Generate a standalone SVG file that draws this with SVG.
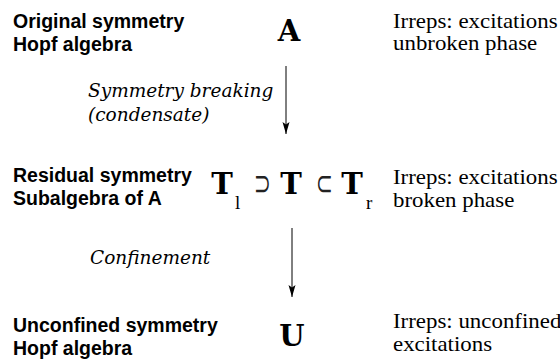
<svg xmlns="http://www.w3.org/2000/svg" width="560" height="360" viewBox="0 0 560 360">
<defs>
<style>
.lbl{font-family:"Liberation Sans",Arial,sans-serif;font-weight:bold;font-size:19.5px;fill:#000}
.sym{font-family:"DejaVu Serif","Liberation Serif",serif;font-weight:bold;font-size:29px;fill:#000}
.sub{font-family:"Liberation Serif",serif;font-size:19px;fill:#000}
.rel{font-family:"DejaVu Sans",sans-serif;font-weight:200;font-size:25px;fill:#222}
.irr{font-family:"Liberation Serif",serif;font-size:21px;fill:#000}
.it{font-family:"DejaVu Serif","Liberation Serif",serif;font-style:italic;font-size:18.5px;fill:#000}
.edge{stroke:#000;stroke-width:1;fill:none}
</style>
<marker id="ah" viewBox="0 0 12 8" refX="12" refY="4" markerWidth="12" markerHeight="8" markerUnits="userSpaceOnUse" orient="auto">
<path d="M0,0.5 L12,4 L0,7.5 L2.5,4 Z" fill="#000"/>
</marker>
</defs>
<g id="node-A">
<text class="lbl" x="13" y="28">Original symmetry</text>
<text class="lbl" x="13" y="51">Hopf algebra</text>
<text class="sym" x="289" y="41" text-anchor="middle">A</text>
<g transform="translate(393,0) scale(1.09,1)">
<text class="irr" x="0" y="28">Irreps: excitations</text>
<text class="irr" x="0" y="50">unbroken phase</text>
</g>
</g>
<g id="node-T">
<text class="lbl" x="13" y="182">Residual symmetry</text>
<text class="lbl" x="13" y="205">Subalgebra of A</text>
<text class="sym" x="222" y="194" text-anchor="middle">T</text>
<text class="sub" x="235" y="209">l</text>
<text class="rel" transform="translate(262,195) scale(0.8,1.4)" text-anchor="middle">⊃</text>
<text class="sym" x="291" y="194" text-anchor="middle">T</text>
<text class="rel" transform="translate(324,195) scale(0.8,1.4)" text-anchor="middle">⊂</text>
<text class="sym" x="352" y="194" text-anchor="middle">T</text>
<text class="sub" x="366" y="209">r</text>
<g transform="translate(393,0) scale(1.09,1)">
<text class="irr" x="0" y="184">Irreps: excitations</text>
<text class="irr" x="0" y="207">broken phase</text>
</g>
</g>
<g id="node-U">
<text class="lbl" x="13" y="332">Unconfined symmetry</text>
<text class="lbl" x="13" y="355">Hopf algebra</text>
<text class="sym" x="292" y="346" text-anchor="middle">U</text>
<g transform="translate(393,0) scale(1.09,1)">
<text class="irr" x="0" y="328">Irreps: unconfined</text>
<text class="irr" x="0" y="351">excitations</text>
</g>
</g>
<g id="connectors">
<line class="edge" x1="286" y1="66" x2="286" y2="134" marker-end="url(#ah)"/>
<text class="it" x="88" y="97">Symmetry breaking</text>
<text class="it" x="88" y="121">(condensate)</text>
<line class="edge" x1="292" y1="228" x2="292" y2="297" marker-end="url(#ah)"/>
<text class="it" x="90" y="264">Confinement</text>
</g>
</svg>
